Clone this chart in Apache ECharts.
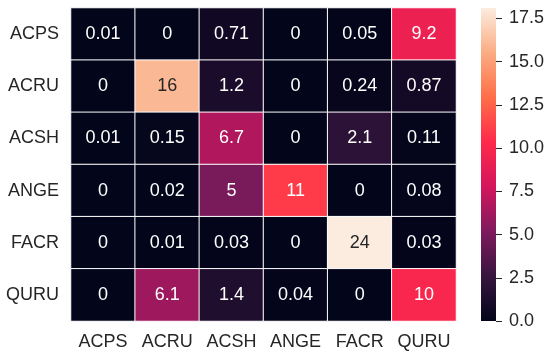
<!DOCTYPE html>
<html>
<head>
<meta charset="utf-8">
<script src="https://cdn.jsdelivr.net/npm/echarts@6/dist/echarts.min.js"></script>
<style>
html,body{margin:0;padding:0;background:#fff;}
#chart{width:550px;height:354px;}
</style>
</head>
<body>
<div id="chart"></div>
<script>
var rowLabels = ['ACPS', 'ACRU', 'ACSH', 'ANGE', 'FACR', 'QURU'];
var colLabels = ['ACPS', 'ACRU', 'ACSH', 'ANGE', 'FACR', 'QURU'];
var rowACPS = [0.01, 0, 0.71, 0, 0.05, 9.2];
var rowACRU = [0, 16, 1.2, 0, 0.24, 0.87];
var rowACSH = [0.01, 0.15, 6.7, 0, 2.1, 0.11];
var rowANGE = [0, 0.02, 5, 11, 0, 0.08];
var rowFACR = [0, 0.01, 0.03, 0, 24, 0.03];
var rowQURU = [0, 6.1, 1.4, 0.04, 0, 10];
var colorbarTicks = [0, 2.5, 5, 7.5, 10, 12.5, 15, 17.5];
var vmin = 0;
var vmax = 18.1;
var palette = ['#03051a', '#37153f', '#7e1a5d', '#d3155d', '#ff2a4a', '#ff6e48', '#fbac82', '#fcece0'];

var rows = [rowACPS, rowACRU, rowACSH, rowANGE, rowFACR, rowQURU];
var data = [];
rows.forEach(function (r, yi) {
  r.forEach(function (v, xi) {
    var c = Math.max(vmin, Math.min(vmax, v));
    data.push({
      value: [xi, yi, c, v],
      label: { color: (c / vmax > 0.75) ? '#262626' : '#ffffff' }
    });
  });
});

var stops = palette.map(function (col, i) { return { offset: i / (palette.length - 1), color: col }; });

var font = 'Liberation Sans, Arial, sans-serif';
var chart = echarts.init(document.getElementById('chart'), null, { renderer: 'canvas' });
chart.setOption({
  animation: false,
  backgroundColor: '#ffffff',
  grid: [
    { left: 71, top: 8, width: 385, height: 313 },
    { left: 481, top: 8, width: 15, height: 313 }
  ],
  xAxis: [
    {
      type: 'category', gridIndex: 0, data: colLabels, position: 'bottom',
      axisLine: { show: false }, axisTick: { show: false }, splitLine: { show: false },
      axisLabel: { interval: 0, color: '#262626', fontSize: 18, fontFamily: font, margin: 12 }
    },
    {
      type: 'category', gridIndex: 1, data: ['cb'], show: false
    }
  ],
  yAxis: [
    {
      type: 'category', gridIndex: 0, data: rowLabels, inverse: true,
      axisLine: { show: false }, axisTick: { show: false }, splitLine: { show: false },
      axisLabel: { interval: 0, color: '#262626', fontSize: 18, fontFamily: font, margin: 12 }
    },
    {
      type: 'value', gridIndex: 1, position: 'right', min: vmin, max: vmax,
      axisLine: { show: false },
      splitLine: { show: false },
      axisTick: { show: true, length: 6, inside: false, customValues: colorbarTicks, lineStyle: { color: '#262626', width: 1 } },
      axisLabel: {
        color: '#262626', fontSize: 18, fontFamily: font, margin: 13, customValues: colorbarTicks,
        formatter: function (v) { return Number(v).toFixed(1); }
      }
    }
  ],
  visualMap: {
    show: false, type: 'continuous', min: vmin, max: vmax, dimension: 2, seriesIndex: 0,
    inRange: { color: palette }
  },
  series: [
    {
      type: 'heatmap', xAxisIndex: 0, yAxisIndex: 0, data: data,
      itemStyle: { borderColor: '#ffffff', borderWidth: 1 },
      label: {
        show: true, fontSize: 18, fontFamily: font,
        formatter: function (p) { return String(p.value[3]); }
      },
      emphasis: { disabled: true }
    },
    {
      type: 'bar', xAxisIndex: 1, yAxisIndex: 1, data: [vmax], barWidth: '100%',
      itemStyle: { color: new echarts.graphic.LinearGradient(0, 1, 0, 0, stops) },
      silent: true
    }
  ]
});
</script>
</body>
</html>
